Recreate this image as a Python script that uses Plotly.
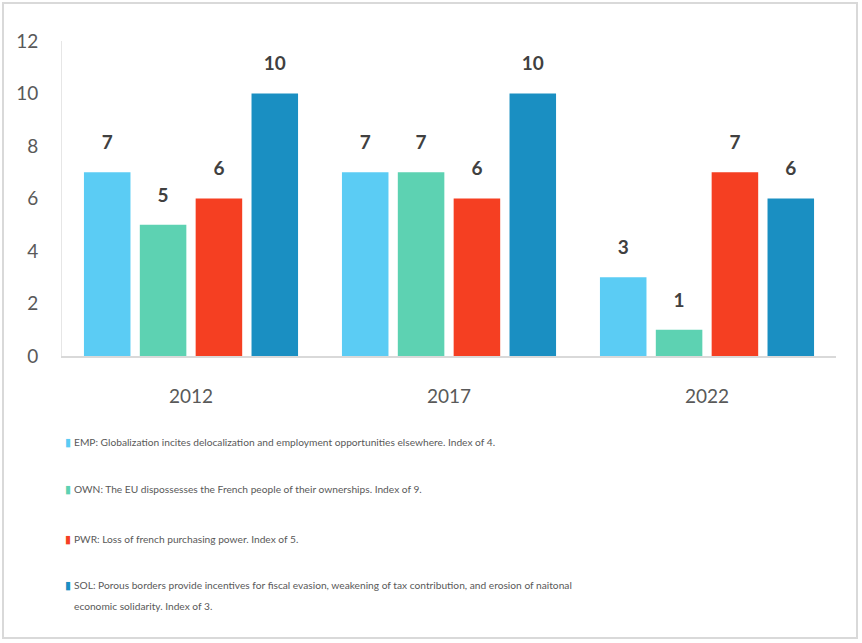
import plotly.graph_objects as go

# Election years and issue scores
years = ["2012", "2017", "2022"]
emp = [7, 7, 3]
own = [5, 7, 1]
pwr = [6, 6, 7]
sol = [10, 10, 6]

series_names = ["EMP", "OWN", "PWR", "SOL"]
series_values = [emp, own, pwr, sol]
series_colors = ["#5BCCF4", "#5DD2B2", "#F53F22", "#1A8FC2"]
legend_lines = [
    ["EMP: Globalization incites delocalization and employment opportunities elsewhere. Index of 4."],
    ["OWN: The EU dispossesses the French people of their ownerships. Index of 9."],
    ["PWR: Loss of french purchasing power. Index of 5."],
    ["SOL: Porous borders provide incentives for fiscal evasion, weakening of tax contribution, and erosion of naitonal",
     "economic solidarity. Index of 3."],
]

y_ticks = [0, 2, 4, 6, 8, 10, 12]

FONT = "Lato, Open Sans, sans-serif"
TEXT_GREY = "#595959"

# plot geometry (px)
M_L, M_R, M_T, M_B = 62, 26, 41, 287
W, H = 862, 643
PLOT_W = W - M_L - M_R
PLOT_H = H - M_T - M_B
BARGAP, GROUPGAP = 0.134, 0.167

fig = go.Figure()
for name, vals, color in zip(series_names, series_values, series_colors):
    fig.add_trace(go.Bar(
        name=name, x=years, y=vals,
        offsetgroup=name,
        marker=dict(color=color, line=dict(width=0)),
        showlegend=False, hoverinfo="skip",
    ))
# value labels, grouped the same way as the bars so they sit above them
for name, vals in zip(series_names, series_values):
    fig.add_trace(go.Scatter(
        name=name + " value", x=years, y=vals,
        offsetgroup=name,
        mode="markers+text",
        marker=dict(size=28, opacity=0),
        text=[f"<b>{v}</b>" for v in vals],
        textposition="top center",
        textfont=dict(family=FONT, size=19, color="#404040"),
        cliponaxis=False, showlegend=False, hoverinfo="skip",
    ))


def paper_y(px):
    return (H - M_B - px) / PLOT_H


# Legend block under the chart: colour swatch + description
annotations = []
legend_px = [442, 489, 539, 585]
for color, lines, py in zip(series_colors, legend_lines, legend_px):
    annotations.append(dict(
        xref="paper", yref="paper", x=1 / PLOT_W, y=paper_y(py),
        xanchor="left", yanchor="middle",
        text="▮", showarrow=False,
        font=dict(family="DejaVu Sans", size=11, color=color),
    ))
    for k, line in enumerate(lines):
        annotations.append(dict(
            xref="paper", yref="paper", x=10 / PLOT_W, y=paper_y(py + 21 * k),
            xanchor="left", yanchor="middle",
            text=line, showarrow=False, align="left",
            font=dict(family=FONT, size=10.2, color=TEXT_GREY),
        ))

fig.update_layout(
    width=W, height=H,
    margin=dict(l=M_L, r=M_R, t=M_T, b=M_B),
    paper_bgcolor="white", plot_bgcolor="white",
    barmode="group", bargap=BARGAP, bargroupgap=GROUPGAP,
    scattermode="group", scattergap=BARGAP,
    annotations=annotations,
    shapes=[dict(
        type="rect", xref="paper", yref="paper",
        x0=-(M_L - 3) / PLOT_W, x1=1 + (M_R - 5) / PLOT_W,
        y0=-(M_B - 5) / PLOT_H, y1=1 + (M_T - 3) / PLOT_H,
        line=dict(color="#D9D9D9", width=2), fillcolor="rgba(0,0,0,0)",
        layer="below",
    )],
    xaxis=dict(
        type="category",
        showgrid=False, showline=True, linecolor="#D9D9D9", linewidth=2,
        ticks="", ticklabelstandoff=22,
        tickfont=dict(family=FONT, size=19, color=TEXT_GREY),
    ),
    yaxis=dict(
        range=[0, 12], tickvals=y_ticks, showgrid=False, zeroline=False,
        showline=True, linecolor="#E6E6E6", linewidth=1,
        ticks="", ticklabelstandoff=19,
        tickfont=dict(family=FONT, size=19, color=TEXT_GREY),
    ),
)

fig.write_html("out.html")
